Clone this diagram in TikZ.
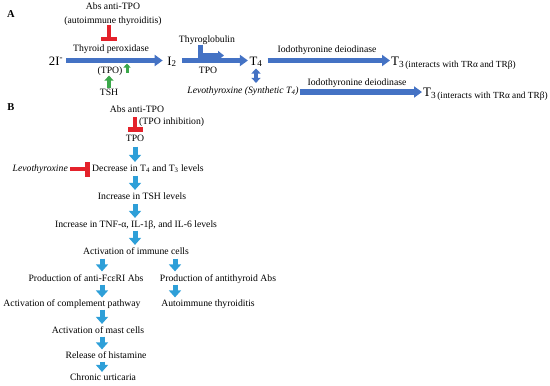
\documentclass[tikz,border=0pt]{standalone}
\usepackage{fontspec}
\setmainfont{Liberation Serif}
\usetikzlibrary{arrows.meta,calc}
\definecolor{ablue}{HTML}{4472C4}
\definecolor{bblue}{HTML}{2E9FD8}
\definecolor{agreen}{HTML}{3BA84A}
\definecolor{ared}{HTML}{E4222B}
\newcommand\bigT[1]{{\fontsize{13}{14}\selectfont #1}}
\newcommand\lowtxt[1]{\raisebox{-2.5pt}{\fontsize{9.3}{11}\selectfont #1}}
\begin{document}
\begin{tikzpicture}[x=1pt,y=-1pt,
  every node/.style={inner sep=0pt, font=\fontsize{9.7}{11}\selectfont, text height=6.8pt, text depth=2pt},
  big/.style={font=\fontsize{12.8}{14}\selectfont, text height=, text depth=},
  lab/.style={font=\fontsize{10.5}{12}\bfseries},
  arrA/.style={draw=ablue, line width=5.5pt, -{Triangle[length=8pt,width=11pt]}},
  arrD/.style={draw=ablue, line width=4pt, {Triangle[length=5pt,width=9pt]}-{Triangle[length=5pt,width=9pt]}},
  bentA/.style={draw=ablue, line width=5pt, -{Triangle[length=6pt,width=9pt]}},
  arrB/.style={draw=bblue, line width=5pt, -{Triangle[length=7pt,width=12pt]}},
  grnS/.style={draw=agreen, line width=3pt, -{Triangle[length=4pt,width=7pt]}},
  grnL/.style={draw=agreen, line width=4.5pt, -{Triangle[length=5pt,width=9pt]}},
  inh/.style={draw=ared, line width=4pt, -{Rectangle[length=4pt,width=16pt]}},
  inhB/.style={draw=ared, line width=4.5pt, -{Rectangle[length=5pt,width=15pt]}},
]
\useasboundingbox (0,0) rectangle (550,386);

% ---------- Panel A ----------
\node[lab] (labA) at (11,15) {A};
\node (absA1) at (113,7) {Abs anti-TPO};
\node (absA2) at (113,21) {(autoimmune thyroiditis)};
\node (tp) at (111,49) {Thyroid peroxidase};
\node[big, anchor=base] (twoI) at (56,65) {2I\textsuperscript{-}};
\node[big, anchor=base] (I2) at (172,65) {I\textsubscript{2}};
\node[big, anchor=base] (T4) at (256,65) {T\textsubscript{4}};
\node[anchor=base west, text height=, text depth=] (T3a) at (391,65) {\bigT{T}\lowtxt{3\,(interacts with TRα and TRβ)}};
\node (tpoA) at (110,71) {(TPO)};
\node (tsh) at (109,93) {TSH};
\node (thg) at (207,40) {Thyroglobulin};
\node (tpo2) at (208,71) {TPO};
\node (iod1) at (327,50) {Iodothyronine deiodinase};
\node (levo) at (243,91) {\itshape Levothyroxine (Synthetic T\textsubscript{4})};
\node (iod2) at (357,83) {Iodothyronine deiodinase};
\node[anchor=base west, text height=, text depth=] (T3b) at (423,96) {\bigT{T}\lowtxt{3\,(interacts with TRα and TRβ)}};

\coordinate (rowA) at (0,60.5);
\coordinate (rowB) at (0,92);
\coordinate (inhAtop) at (109,25);
\coordinate (inhAbot) at (109,41);
\coordinate (gS1) at (127,73);
\coordinate (gS2) at (127,63.5);
\coordinate (bendEnd) at (224,55.5);

\draw[inh] (inhAtop) -- (inhAbot);
\draw[arrA] ([xshift=3pt]twoI.east |- rowA) -- ([xshift=-4.5pt]I2.west |- rowA);
\draw[arrA] ([xshift=5pt]I2.east |- rowA) -- ([xshift=-1.5pt]T4.west |- rowA);
\draw[arrA] ([xshift=5pt]T4.east |- rowA) -- ([xshift=-1pt]T3a.west |- rowA);
\draw[bentA] ([xshift=-7pt]thg.south) |- (bendEnd);
\draw[grnS] (gS1) -- (gS2);
\draw[grnL] (tsh.north) -- (tsh.north |- tpoA.south);
\draw[arrD] ([yshift=-1.5pt]T4.south) -- ([yshift=3.5pt]T4.south |- levo.north);
\draw[arrA] ([xshift=1pt]levo.east |- rowB) -- ([xshift=-1pt]T3b.west |- rowB);

% ---------- Panel B ----------
\node[lab] (labB) at (11,108) {B};
\node (absB) at (137,110) {Abs anti-TPO};
\node[anchor=west] (inhtxt) at (139,122.5) {(TPO inhibition)};
\node (tpo) at (135,139.5) {TPO};
\node[anchor=west] (dec) at (92,169) {Decrease in T\textsubscript{4} and T\textsubscript{3} levels};
\node[anchor=east] (levoB) at (68,169) {\itshape Levothyroxine};
\node (tshB) at (142,197) {Increase in TSH levels};
\node (tnf) at (136,225) {Increase in TNF-α, IL-1β, and IL-6 levels};
\node (imm) at (136,252) {Activation of immune cells};
\node (fce) at (86,279) {Production of anti-FcεRI Abs};
\node (anth) at (218,279) {Production of antithyroid Abs};
\node (comp) at (72,304) {Activation of complement pathway};
\node (auto) at (208,304) {Autoimmune thyroiditis};
\node (mast) at (98,331) {Activation of mast cells};
\node (hist) at (106,356) {Release of histamine};
\node (chr) at (103,378) {Chronic urticaria};

\coordinate (colM) at (135,0);
\coordinate (colL) at (102,0);
\coordinate (colR) at (175,0);

\draw[inhB] ([yshift=-2.5pt]absB.south -| colM) -- ([yshift=2.5pt]tpo.north -| colM);
\draw[inhB] ([xshift=2pt]levoB.east) -- ([xshift=-2pt]dec.west);
\draw[arrB] ([yshift=-2.5pt]tpo.south -| colM) -- ([yshift=2.5pt]dec.north -| colM);
\draw[arrB] ([yshift=-2pt]dec.south -| colM) -- ([yshift=2.5pt]tshB.north -| colM);
\draw[arrB] ([yshift=-2.5pt]tshB.south -| colM) -- ([yshift=2.5pt]tnf.north -| colM);
\draw[arrB] ([yshift=-1pt]tnf.south -| colM) -- ([yshift=2.5pt]imm.north -| colM);
\draw[arrB] ([yshift=-2pt]imm.south -| colL) -- ([yshift=3pt]fce.north -| colL);
\draw[arrB] ([yshift=-2pt]imm.south -| colR) -- ([yshift=3pt]anth.north -| colR);
\draw[arrB] ([yshift=-1pt]fce.south -| colL) -- ([yshift=2pt]comp.north -| colL);
\draw[arrB] ([yshift=-1pt]anth.south -| colR) -- ([yshift=2pt]auto.north -| colR);
\draw[arrB] ([yshift=-1pt]comp.south -| colL) -- ([yshift=2.5pt]mast.north -| colL);
\draw[arrB] ([yshift=-1pt]mast.south -| colL) -- ([yshift=2pt]hist.north -| colL);
\draw[arrB] ([yshift=-1pt]hist.south -| colL) -- ([yshift=1.5pt]chr.north -| colL);
\end{tikzpicture}
\end{document}
